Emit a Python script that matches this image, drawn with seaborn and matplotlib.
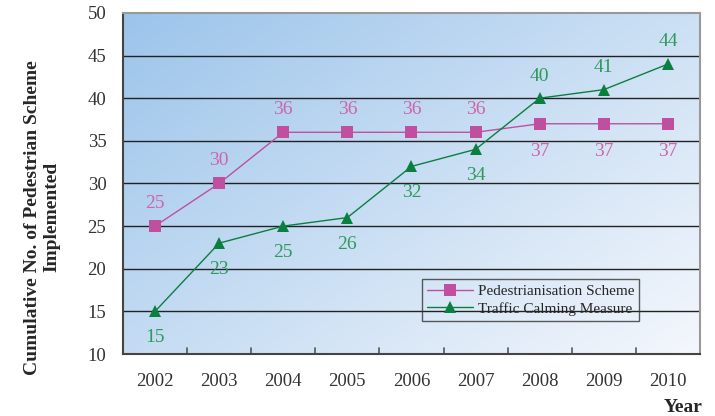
import numpy as np
import pandas as pd
import seaborn as sns
import matplotlib.pyplot as plt

years = [2002, 2003, 2004, 2005, 2006, 2007, 2008, 2009, 2010]
pedestrian = [25, 30, 36, 36, 36, 36, 37, 37, 37]
traffic = [15, 23, 25, 26, 32, 34, 40, 41, 44]
series_names = ['Pedestrianisation Scheme', 'Traffic Calming Measure']

df = pd.DataFrame({'pos': range(len(years)), 'year': years,
                   series_names[0]: pedestrian, series_names[1]: traffic})
df_melted = df.melt(id_vars=['pos', 'year'], var_name='Series', value_name='Count')

sns.set_style("white")
plt.rcParams['font.family'] = ['Liberation Serif', 'DejaVu Serif']

fig = plt.figure(figsize=(7.15, 4.16), dpi=100)
ax = fig.add_axes([0.172, 0.149, 0.807, 0.82])

# gradient background
gx, gy = np.meshgrid(np.linspace(0, 1, 200), np.linspace(1, 0, 200))
t = np.clip((gx * 0.55 + (1 - gy) * 0.45), 0, 1)
c0 = np.array([0.61, 0.77, 0.92])
c1 = np.array([0.96, 0.97, 0.99])
img = c0[None, None, :] * (1 - t[..., None]) + c1[None, None, :] * t[..., None]
ax.imshow(img, extent=[0, 1, 0, 1], transform=ax.transAxes, aspect='auto', zorder=0)

pink = '#c0509f'
green = '#0b7f3f'
sns.lineplot(data=df_melted, x='pos', y='Count', hue='Series', style='Series',
             markers={series_names[0]: 's', series_names[1]: '^'}, dashes=False,
             palette={series_names[0]: pink, series_names[1]: green},
             markersize=8, markeredgewidth=0, linewidth=1.0, ax=ax, zorder=3)

ax.set_xlim(-0.5, len(years) - 0.5)
ax.set_ylim(10, 50)
ax.set_yticks(range(10, 51, 5))
ax.set_xticks(range(len(years)))
ax.set_xticklabels(years)
ax.tick_params(axis='both', labelsize=13.5, colors='#333333', length=0)
ax.tick_params(axis='y', pad=12)
ax.tick_params(axis='x', pad=14)
for k in range(1, len(years)):
    ax.plot([k - 0.5, k - 0.5], [10, 10.7], color='#555555', lw=1.2, zorder=2)
for yv in range(15, 50, 5):
    ax.axhline(yv, color='#222222', lw=1, zorder=1)

for s in ['top', 'right']:
    ax.spines[s].set_color('#999999')
    ax.spines[s].set_linewidth(1.5)
for s in ['left', 'bottom']:
    ax.spines[s].set_color('#444444')
    ax.spines[s].set_linewidth(1.5)

# data labels
lab_pink = '#cc66aa'
lab_green = '#2e9a5c'
for i, v in enumerate(pedestrian):
    dy = -3.3 if i >= 6 else 2.7
    ax.text(i, v + dy, str(v), ha='center', va='center', fontsize=14, color=lab_pink, zorder=4)
for i, v in enumerate(traffic):
    dy = 2.6 if i >= 6 else -3.1
    ax.text(i, v + dy, str(v), ha='center', va='center', fontsize=14, color=lab_green, zorder=4)

ax.set_xlabel('')
ax.set_ylabel('')
fig.text(0.059, 0.478, 'Cumulative No. of Pedestrian Scheme\nImplemented', fontsize=14,
         fontweight='bold', rotation=90, ha='center', va='center', multialignment='center')
fig.text(0.955, 0.02, 'Year', fontsize=14, fontweight='bold', ha='center', va='center')

leg = ax.legend(loc='lower left', bbox_to_anchor=(0.518, 0.097), fontsize=11,
                frameon=True, fancybox=False, handlelength=3, borderpad=0.35,
                labelspacing=0.25, handletextpad=0.3, borderaxespad=0)
leg.get_frame().set_edgecolor('#333333')
leg.get_frame().set_facecolor('none')
leg.get_frame().set_linewidth(1)

fig.savefig('out.png', dpi=100)
plt.close()
